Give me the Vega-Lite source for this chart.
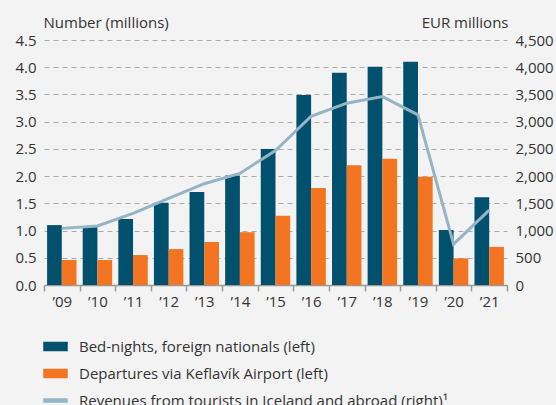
{
  "$schema": "https://vega.github.io/schema/vega-lite/v6.json",
  "width": 463,
  "height": 245,
  "autosize": {"type": "none"},
  "padding": {"left": 44, "top": 40, "right": 49, "bottom": 120},
  "background": "#f3f3f3",
  "config": {
    "font": "Open Sans",
    "view": {"stroke": null},
    "axis": {"labelFontSize": 15, "labelColor": "#333333", "titleFontSize": 15, "titleColor": "#333333", "titleFontWeight": "normal"}
  },
  "datasets": {
    "bars": [
      {"year": "’09", "series": "Bed-nights, foreign nationals (left)", "value": 1.1},
      {"year": "’09", "series": "Departures via Keflavík Airport (left)", "value": 0.46},
      {"year": "’10", "series": "Bed-nights, foreign nationals (left)", "value": 1.08},
      {"year": "’10", "series": "Departures via Keflavík Airport (left)", "value": 0.46},
      {"year": "’11", "series": "Bed-nights, foreign nationals (left)", "value": 1.21},
      {"year": "’11", "series": "Departures via Keflavík Airport (left)", "value": 0.55},
      {"year": "’12", "series": "Bed-nights, foreign nationals (left)", "value": 1.51},
      {"year": "’12", "series": "Departures via Keflavík Airport (left)", "value": 0.66},
      {"year": "’13", "series": "Bed-nights, foreign nationals (left)", "value": 1.71},
      {"year": "’13", "series": "Departures via Keflavík Airport (left)", "value": 0.79},
      {"year": "’14", "series": "Bed-nights, foreign nationals (left)", "value": 2.01},
      {"year": "’14", "series": "Departures via Keflavík Airport (left)", "value": 0.97},
      {"year": "’15", "series": "Bed-nights, foreign nationals (left)", "value": 2.5},
      {"year": "’15", "series": "Departures via Keflavík Airport (left)", "value": 1.27},
      {"year": "’16", "series": "Bed-nights, foreign nationals (left)", "value": 3.49},
      {"year": "’16", "series": "Departures via Keflavík Airport (left)", "value": 1.78},
      {"year": "’17", "series": "Bed-nights, foreign nationals (left)", "value": 3.9},
      {"year": "’17", "series": "Departures via Keflavík Airport (left)", "value": 2.2},
      {"year": "’18", "series": "Bed-nights, foreign nationals (left)", "value": 4.01},
      {"year": "’18", "series": "Departures via Keflavík Airport (left)", "value": 2.32},
      {"year": "’19", "series": "Bed-nights, foreign nationals (left)", "value": 4.1},
      {"year": "’19", "series": "Departures via Keflavík Airport (left)", "value": 1.99},
      {"year": "’20", "series": "Bed-nights, foreign nationals (left)", "value": 1.01},
      {"year": "’20", "series": "Departures via Keflavík Airport (left)", "value": 0.49},
      {"year": "’21", "series": "Bed-nights, foreign nationals (left)", "value": 1.61},
      {"year": "’21", "series": "Departures via Keflavík Airport (left)", "value": 0.7}
    ],
    "line": [
      {"year": "’09", "series": "Revenues from tourists in Iceland and abroad (right)¹", "revenue": 1040},
      {"year": "’10", "series": "Revenues from tourists in Iceland and abroad (right)¹", "revenue": 1085},
      {"year": "’11", "series": "Revenues from tourists in Iceland and abroad (right)¹", "revenue": 1315},
      {"year": "’12", "series": "Revenues from tourists in Iceland and abroad (right)¹", "revenue": 1590},
      {"year": "’13", "series": "Revenues from tourists in Iceland and abroad (right)¹", "revenue": 1860},
      {"year": "’14", "series": "Revenues from tourists in Iceland and abroad (right)¹", "revenue": 2050},
      {"year": "’15", "series": "Revenues from tourists in Iceland and abroad (right)¹", "revenue": 2470},
      {"year": "’16", "series": "Revenues from tourists in Iceland and abroad (right)¹", "revenue": 3100},
      {"year": "’17", "series": "Revenues from tourists in Iceland and abroad (right)¹", "revenue": 3340},
      {"year": "’18", "series": "Revenues from tourists in Iceland and abroad (right)¹", "revenue": 3460},
      {"year": "’19", "series": "Revenues from tourists in Iceland and abroad (right)¹", "revenue": 3125},
      {"year": "’20", "series": "Revenues from tourists in Iceland and abroad (right)¹", "revenue": 750},
      {"year": "’21", "series": "Revenues from tourists in Iceland and abroad (right)¹", "revenue": 1375}
    ]
  },
  "layer": [
    {
      "data": {"name": "bars"},
      "mark": {"type": "bar"},
      "encoding": {
        "x": {
          "field": "year", "type": "nominal", "sort": null,
          "scale": {"paddingInner": 0, "paddingOuter": 0},
          "axis": {"title": null, "labelAngle": 0, "tickBand": "extent", "ticks": true, "tickSize": 6, "tickColor": "#999999", "domainColor": "#999999", "tickWidth": 1.5, "domainWidth": 1.5, "labelPadding": 3, "grid": false}
        },
        "xOffset": {"field": "series", "type": "nominal", "sort": null, "scale": {"paddingInner": 0, "paddingOuter": 0.21}},
        "y": {
          "field": "value", "type": "quantitative",
          "scale": {"domain": [0, 4.5], "nice": false, "zero": true},
          "axis": {
            "orient": "left", "title": "Number (millions)", "titleAngle": 0, "titleAlign": "left", "titleAnchor": null,
            "titleX": -1, "titleY": -13, "titleBaseline": "alphabetic",
            "values": [0, 0.5, 1, 1.5, 2, 2.5, 3, 3.5, 4, 4.5], "format": ".1f",
            "ticks": false, "domain": false, "labelPadding": 8,
            "grid": true, "gridDash": [5, 4], "gridColor": "#aaaaaa", "gridWidth": 1
          }
        },
        "color": {
          "field": "series", "type": "nominal",
          "scale": {
            "domain": ["Bed-nights, foreign nationals (left)", "Departures via Keflavík Airport (left)", "Revenues from tourists in Iceland and abroad (right)¹"],
            "range": ["#00506e", "#f37522", "#95b4c5"]
          },
          "legend": {
            "orient": "none", "legendX": -1, "legendY": 294, "direction": "vertical", "title": null,
            "labelFontSize": 15, "labelColor": "#333333", "labelLimit": 0, "symbolSize": 529, "labelOffset": 11, "rowPadding": 6,
            "encode": {
              "symbols": {
                "update": {
                  "shape": {"signal": "datum.index == 2 ? 'M-1,-0.13H1V0.13H-1Z' : 'M-1,-0.35H1V0.35H-1Z'"},
                  "fill": {"scale": "color", "field": "value"},
                  "stroke": {"value": "transparent"},
                  "opacity": {"value": 1}
                }
              }
            }
          }
        }
      }
    },
    {
      "data": {"name": "line"},
      "mark": {"type": "line", "strokeWidth": 3},
      "encoding": {
        "x": {"field": "year", "type": "nominal", "sort": null},
        "y": {
          "field": "revenue", "type": "quantitative",
          "scale": {"domain": [0, 4500], "nice": false},
          "axis": {
            "orient": "right", "title": "EUR millions", "titleAngle": 0, "titleAlign": "right", "titleAnchor": null,
            "titleX": 1, "titleY": -13, "titleBaseline": "alphabetic",
            "values": [0, 500, 1000, 1500, 2000, 2500, 3000, 3500, 4000, 4500], "format": ",.0f",
            "ticks": false, "domain": false, "labelPadding": 8, "grid": false
          }
        },
        "color": {"field": "series", "type": "nominal"}
      }
    }
  ],
  "resolve": {"scale": {"y": "independent"}}
}
